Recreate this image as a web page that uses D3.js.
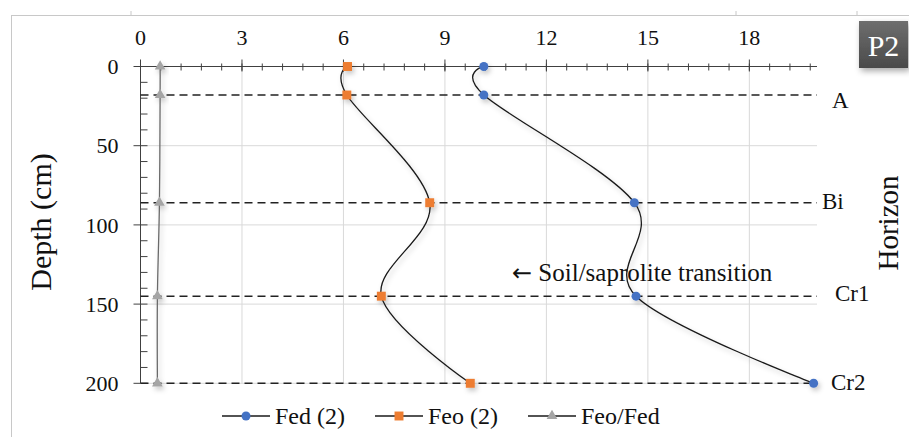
<!DOCTYPE html>
<html>
<head>
<meta charset="utf-8">
<script src="https://cdn.jsdelivr.net/npm/d3@7"></script>
<style>
  body { margin: 0; background: #fff; }
  svg { display: block; font-family: "Liberation Serif", "Times New Roman", serif; }
</style>
</head>
<body>
<svg id="chart" width="909" height="437"></svg>
<script>
// depth of each sample (cm)
const depths = [0, 18, 86, 145, 200];
const fedValues = [10.15, 10.15, 14.6, 14.65, 19.9];
const feoValues = [6.12, 6.1, 8.55, 7.12, 9.75];
const ratioValues = [0.58, 0.58, 0.56, 0.5, 0.5];

const horizonNames = ["A", "Bi", "Cr1", "Cr2"];
const horizonDepths = [18, 86, 145, 200];

const xTicks = [0, 3, 6, 9, 12, 15, 18];
const yTicks = [0, 50, 100, 150, 200];

const seriesNames = ["Fed (2)", "Feo (2)", "Feo/Fed"];

const svg = d3.select("#chart");

const x = d3.scaleLinear().domain([0, 20]).range([140.5, 817]);
const y = d3.scaleLinear().domain([0, 200]).range([66.5, 383.3]);

// drop shadow like excel
const defs = svg.append("defs");
defs.append("filter").attr("id", "shadow")
    .attr("x", "-20%").attr("y", "-20%").attr("width", "140%").attr("height", "140%")
  .append("feDropShadow")
    .attr("dx", 2).attr("dy", 3).attr("stdDeviation", 2.5)
    .attr("flood-color", "#000").attr("flood-opacity", 0.22);
defs.append("filter").attr("id", "boxshadow")
    .attr("x", "-30%").attr("y", "-30%").attr("width", "170%").attr("height", "170%")
  .append("feDropShadow")
    .attr("dx", 2).attr("dy", 3).attr("stdDeviation", 3)
    .attr("flood-color", "#000").attr("flood-opacity", 0.35);

// sheet border bits
svg.append("line").attr("x1", 11).attr("x2", 909).attr("y1", 15.5).attr("y2", 15.5)
    .attr("stroke", "#c8c8c8").attr("stroke-width", 1);
svg.append("line").attr("x1", 11.5).attr("x2", 11.5).attr("y1", 15).attr("y2", 437)
    .attr("stroke", "#c8c8c8").attr("stroke-width", 1);
[131, 736, 857].forEach(function(cx) {
  svg.append("line").attr("x1", cx).attr("x2", cx).attr("y1", 11).attr("y2", 15)
      .attr("stroke", "#c8c8c8");
});

// gridlines
const grid = svg.append("g").attr("stroke", "#d9d9d9").attr("stroke-width", 1);
grid.selectAll(".vg").data(xTicks.filter(d => d > 0)).enter().append("line")
    .attr("x1", d => x(d)).attr("x2", d => x(d))
    .attr("y1", y(0)).attr("y2", y(200));
grid.selectAll(".hg").data(yTicks.filter(d => d > 0)).enter().append("line")
    .attr("x1", x(0)).attr("x2", x(20))
    .attr("y1", d => y(d)).attr("y2", d => y(d));

// top x axis
const xAxis = svg.append("g").attr("transform", "translate(0," + y(0) + ")");
xAxis.append("line").attr("x1", x(0)).attr("x2", x(20)).attr("stroke", "#404040");
const xMinor = d3.range(0, 20, 0.6);
xAxis.selectAll(".xm").data(xMinor).enter().append("line")
    .attr("x1", d => x(d)).attr("x2", d => x(d))
    .attr("y1", -3).attr("y2", 4).attr("stroke", "#404040");
xAxis.selectAll(".xM").data(xTicks).enter().append("line")
    .attr("x1", d => x(d)).attr("x2", d => x(d))
    .attr("y1", -7).attr("y2", 5).attr("stroke", "#404040");
xAxis.selectAll(".xl").data(xTicks).enter().append("text")
    .attr("x", d => x(d)).attr("y", -29.5).attr("dy", "0.35em")
    .attr("text-anchor", "middle").attr("font-size", 22).attr("fill", "#111")
    .text(d => d);

// left y axis
const yAxis = svg.append("g").attr("transform", "translate(" + x(0) + ",0)");
yAxis.append("line").attr("y1", y(0)).attr("y2", y(200)).attr("stroke", "#404040");
yAxis.selectAll(".ym").data(d3.range(0, 201, 10)).enter().append("line")
    .attr("x1", 0).attr("x2", 7)
    .attr("y1", d => y(d)).attr("y2", d => y(d)).attr("stroke", "#404040");
yAxis.selectAll(".yM").data(yTicks).enter().append("line")
    .attr("x1", -7).attr("x2", 0)
    .attr("y1", d => y(d)).attr("y2", d => y(d)).attr("stroke", "#404040");
yAxis.selectAll(".yl").data(yTicks).enter().append("text")
    .attr("x", -22).attr("y", d => y(d)).attr("dy", "0.35em")
    .attr("text-anchor", "end").attr("font-size", 22).attr("fill", "#111")
    .text(d => d);

svg.append("text")
    .attr("transform", "translate(40,222) rotate(-90)")
    .attr("text-anchor", "middle").attr("dy", "0.35em")
    .attr("font-size", 30).attr("fill", "#111")
    .text("Depth (cm)");

// horizon boundaries
const horizons = horizonNames.map((n, i) => ({ name: n, depth: horizonDepths[i] }));
svg.selectAll(".hz").data(horizons).enter().append("line")
    .attr("x1", x(0)).attr("x2", x(20))
    .attr("y1", d => y(d.depth)).attr("y2", d => y(d.depth))
    .attr("stroke", "#222").attr("stroke-width", 1.5)
    .attr("stroke-dasharray", "8,5");

// label nudges to mimic hand placed data labels
const labelDx = [15, 5, 18, 14];
const labelDy = [5, -2, -3, -1];
svg.selectAll(".hl").data(horizons).enter().append("text")
    .attr("x", (d, i) => x(20) + labelDx[i])
    .attr("y", (d, i) => y(d.depth) + labelDy[i]).attr("dy", "0.35em")
    .attr("font-size", 23).attr("fill", "#111")
    .text(d => d.name);

svg.append("text")
    .attr("transform", "translate(888,223) rotate(-90)")
    .attr("text-anchor", "middle").attr("dy", "0.35em")
    .attr("font-size", 29).attr("fill", "#111")
    .text("Horizon");

const note = svg.append("text")
    .attr("x", 512).attr("y", 272).attr("dy", "0.35em")
    .attr("font-size", 25).attr("fill", "#111");
note.append("tspan").attr("font-family", "DejaVu Sans").attr("font-size", 24).text("\u2190");
note.append("tspan").text(" Soil/saprolite transition");

// series
const line = d3.line()
    .x(d => x(d[0])).y(d => y(d[1]))
    .curve(d3.curveCatmullRom.alpha(0));

const series = [
  { name: seriesNames[0], values: fedValues, color: "#4472c4", shape: d3.symbolCircle, size: 64, stroke: "#1a1a1a" },
  { name: seriesNames[1], values: feoValues, color: "#ed7d31", shape: d3.symbolSquare, size: 80, stroke: "#1a1a1a" },
  { name: seriesNames[2], values: ratioValues, color: "#a5a5a5", shape: d3.symbolTriangle, size: 50, stroke: "#6a6a6a" }
];

series.forEach(function(s) {
  const pts = s.values.map((v, i) => [v, depths[i]]);
  const g = svg.append("g").attr("filter", "url(#shadow)");
  g.append("path").datum(pts)
      .attr("d", line).attr("fill", "none")
      .attr("stroke", s.stroke).attr("stroke-width", 1.3);
  g.selectAll("path.m").data(pts).enter().append("path")
      .attr("class", "m")
      .attr("transform", d => "translate(" + x(d[0]) + "," + y(d[1]) + ")")
      .attr("d", d3.symbol().type(s.shape).size(s.size))
      .attr("fill", s.color);
});

// legend
const legendX = [222, 375, 528];
const legend = svg.append("g").attr("transform", "translate(0,416)");
series.forEach(function(s, i) {
  const lg = legend.append("g").attr("transform", "translate(" + legendX[i] + ",0)");
  lg.append("line").attr("x1", 0).attr("x2", 48).attr("stroke", "#1a1a1a").attr("stroke-width", 1.3);
  lg.append("path").attr("transform", "translate(24,0)")
      .attr("d", d3.symbol().type(s.shape).size(s.size)).attr("fill", s.color);
  lg.append("text").attr("x", 53).attr("dy", "0.35em")
      .attr("font-size", 24).attr("fill", "#111").text(s.name);
});

// P2 badge
const badge = svg.append("g").attr("transform", "translate(859,21)");
const grad = defs.append("linearGradient").attr("id", "badgeGrad")
    .attr("x1", 0).attr("y1", 0).attr("x2", 0).attr("y2", 1);
grad.append("stop").attr("offset", "0%").attr("stop-color", "#6e6e6e");
grad.append("stop").attr("offset", "100%").attr("stop-color", "#4a4a4a");
badge.append("rect").attr("width", 49).attr("height", 47)
    .attr("fill", "url(#badgeGrad)").attr("filter", "url(#boxshadow)");
badge.append("text").attr("x", 24.5).attr("y", 24).attr("dy", "0.35em")
    .attr("text-anchor", "middle").attr("font-size", 30).attr("fill", "#fff")
    .text("P2");
</script>
</body>
</html>
